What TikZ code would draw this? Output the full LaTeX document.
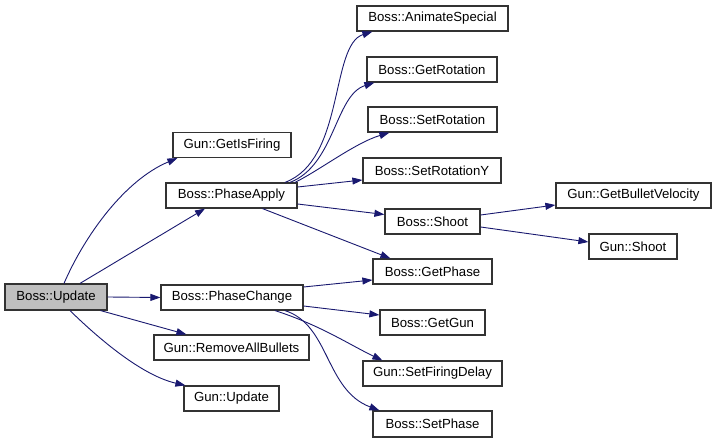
\documentclass[tikz,border=0pt]{standalone}
\usepackage{fontspec}
\setmainfont{Liberation Sans}
\usetikzlibrary{arrows.meta}
\definecolor{edgec}{HTML}{191970}
\definecolor{boxc}{HTML}{333333}
\definecolor{rootc}{HTML}{BFBFBF}
\begin{document}
\begin{tikzpicture}[x=1pt,y=-1pt,
  fn/.style={draw=boxc,line width=1.2pt,fill=white,inner sep=0pt,minimum height=25pt,
    font=\fontsize{13.2}{15}\selectfont},
  root/.style={fn,fill=rootc},
  call/.style={draw=edgec,line width=0.9pt,-{Triangle[length=10pt,width=7pt]}}]
\useasboundingbox[fill=white] (0,0) rectangle (716,443);
% nodes
\node[root,minimum width=102pt,minimum height=26pt] (upd) at (56,297) {Boss::Update};
\node[fn,minimum width=118pt] (isf) at (232,145) {Gun::GetIsFiring};
\node[fn,minimum width=131pt] (apply) at (231.5,195.5) {Boss::PhaseApply};
\node[fn,minimum width=142pt] (change) at (232,297.5) {Boss::PhaseChange};
\node[fn,minimum width=155pt] (remove) at (231.5,347.5) {Gun::RemoveAllBullets};
\node[fn,minimum width=95pt] (gupd) at (231.5,398.5) {Gun::Update};
\node[fn,minimum width=151pt] (anim) at (432.5,18.5) {Boss::AnimateSpecial};
\node[fn,minimum width=130pt] (getrot) at (432,69.5) {Boss::GetRotation};
\node[fn,minimum width=129pt] (setrot) at (432.5,119.5) {Boss::SetRotation};
\node[fn,minimum width=138pt] (setroty) at (432,170.5) {Boss::SetRotationY};
\node[fn,minimum width=95pt] (shoot) at (432.5,221.5) {Boss::Shoot};
\node[fn,minimum width=119pt] (getphase) at (432.5,271.5) {Boss::GetPhase};
\node[fn,minimum width=105pt] (getgun) at (432.5,322.5) {Boss::GetGun};
\node[fn,minimum width=139pt] (sfd) at (432.5,373.5) {Gun::SetFiringDelay};
\node[fn,minimum width=119pt,minimum height=26pt] (setphase) at (432.5,424) {Boss::SetPhase};
\node[fn,minimum width=155pt] (gbv) at (633.5,195.5) {Gun::GetBulletVelocity};
\node[fn,minimum width=88pt] (gshoot) at (633,246.5) {Gun::Shoot};
% edges from Boss::Update
\draw[call] ([xshift=8pt]upd.north) .. controls (85,235) and (125,180) .. ([xshift=5pt]isf.south west);
\draw[call] ([xshift=24pt]upd.north) -- ([xshift=-26.5pt]apply.south);
\draw[call] (upd.east) -- (change.west);
\draw[call] ([xshift=-7pt]upd.south east) -- ([xshift=33pt]remove.north west);
\draw[call] ([xshift=14pt]upd.south) .. controls (95,335) and (140,375) .. ([xshift=2pt]gupd.north west);
% edges from Boss::PhaseApply
\draw[call] ([xshift=53.5pt]apply.north) .. controls (345,160) and (330,45) .. ([xshift=16pt]anim.south west);
\draw[call] ([xshift=58.5pt]apply.north) .. controls (335,165) and (335,95) .. ([xshift=8pt]getrot.south west);
\draw[call] ([xshift=63.5pt]apply.north) .. controls (320,170) and (355,143) .. ([xshift=22pt]setrot.south west);
\draw[call] ([yshift=8.5pt]apply.east) -- ([yshift=-9.5pt]setroty.west);
\draw[call] ([yshift=-8.5pt]apply.east) -- ([yshift=7pt]shoot.west);
\draw[call] ([xshift=31pt]apply.south) -- ([xshift=18pt]getphase.north west);
% edges from Boss::Shoot
\draw[call] ([yshift=6.5pt]shoot.east) -- ([yshift=-9.5pt]gbv.west);
\draw[call] ([yshift=-5.5pt]shoot.east) -- ([yshift=4.5pt]gshoot.west);
% edges from Boss::PhaseChange
\draw[call] ([yshift=10.5pt]change.east) -- ([yshift=-8.5pt]getphase.west);
\draw[call] ([yshift=-8.5pt]change.east) -- ([yshift=7.5pt]getgun.west);
\draw[call] ([xshift=43pt]change.south) .. controls (320,325) and (350,345) .. ([xshift=20pt]sfd.north west);
\draw[call] ([xshift=53pt]change.south) .. controls (330,325) and (325,390) .. ([xshift=7pt]setphase.north west);
\end{tikzpicture}
\end{document}
